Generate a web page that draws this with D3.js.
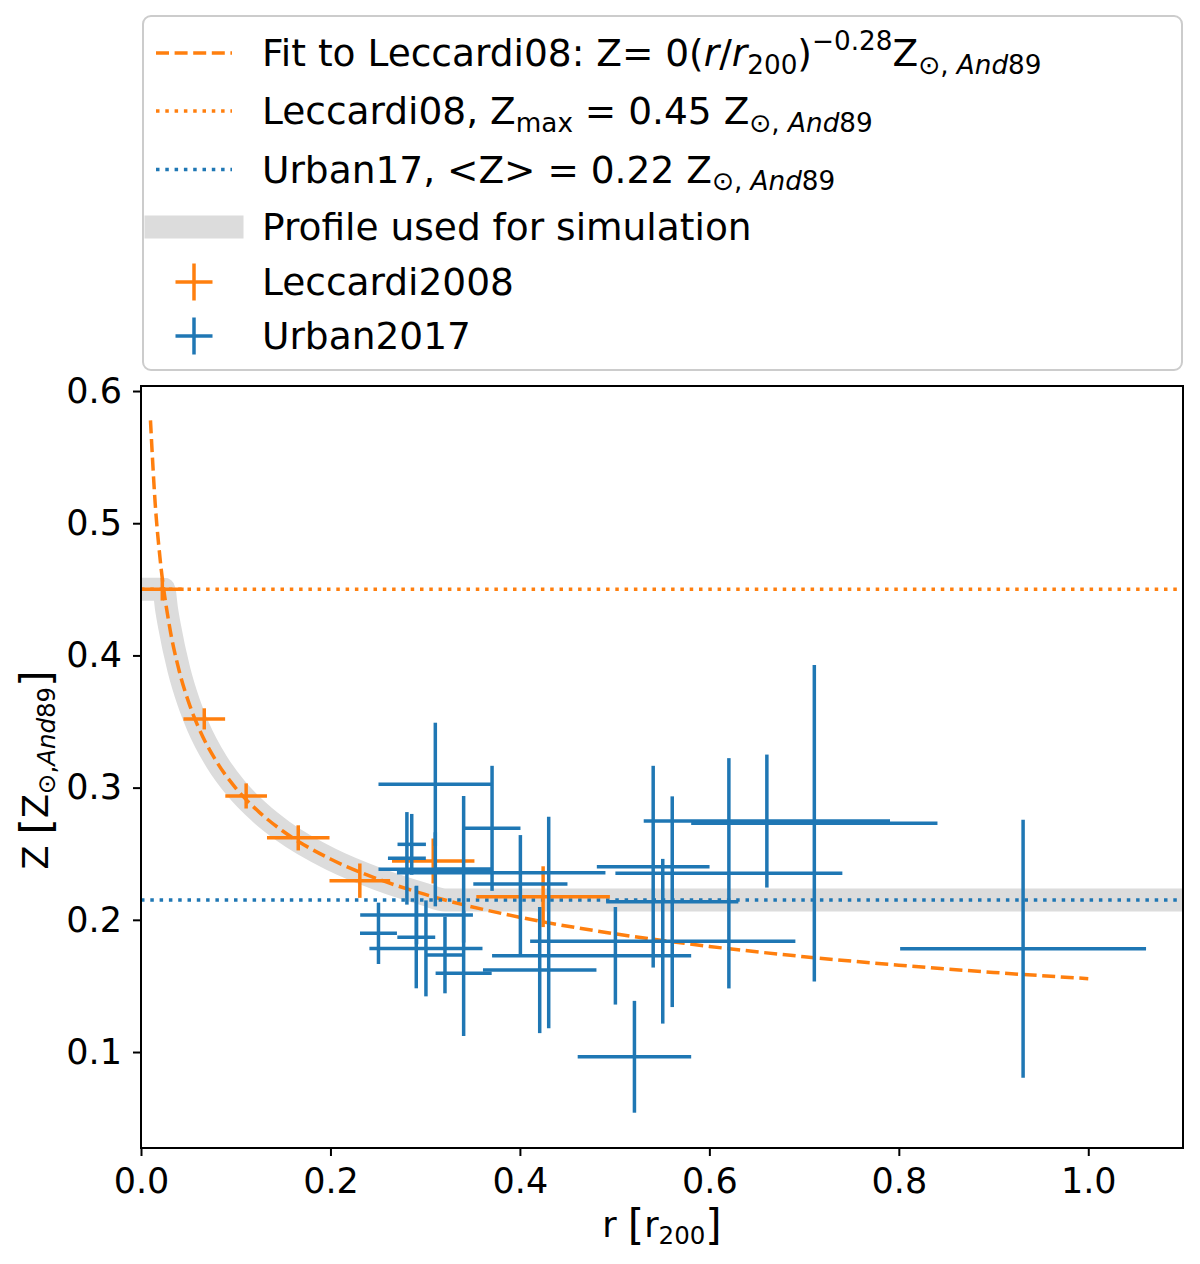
<!DOCTYPE html>
<html>
<head>
<meta charset="utf-8">
<script src="https://cdn.jsdelivr.net/npm/d3@7"></script>
<style>
  body { margin: 0; background: #fff; }
  text { font-family: "DejaVu Sans", sans-serif; white-space: pre; }
</style>
</head>
<body>
<div id="wrapper"></div>
<script>
// Leccardi 2008 profile (r in r200, Z in solar And89)
const leccR    = [0.0225, 0.0668, 0.111, 0.166, 0.231, 0.3085, 0.4245]
const leccRErr = [0.0225, 0.022, 0.022, 0.033, 0.032, 0.0435, 0.0705]
const leccZ    = [0.45, 0.352, 0.2937, 0.262, 0.2296, 0.2445, 0.2175]
const leccZErr = [0.0085, 0.008, 0.0095, 0.0095, 0.013, 0.017, 0.023]

// Urban 2017 points, errors given as (lower, upper)
const urbanR     = [0.3107, 0.3107, 0.3706, 0.2807, 0.2858, 0.2507, 0.2909, 0.2906, 0.3008, 0.3209, 0.3406, 0.3406,
                    0.4005, 0.4304, 0.4209, 0.5008, 0.5209, 0.5407, 0.5508, 0.5608, 0.6206, 0.6607, 0.7108, 0.9312]
const urbanRErrLo = [0.060, 0.060, 0.030, 0.020, 0.015, 0.0195, 0.0595, 0.020, 0.0597, 0.0203, 0.0296, 0.0296,
                    0.0497, 0.1602, 0.0599, 0.1302, 0.0599, 0.0595, 0.140, 0.0698, 0.1198, 0.130, 0.130, 0.1298]
const urbanRErrHi = [0.060, 0.060, 0.030, 0.020, 0.015, 0.0195, 0.0595, 0.020, 0.0597, 0.0203, 0.0296, 0.0296,
                    0.0497, 0.0599, 0.0599, 0.080, 0.0599, 0.0595, 0.140, 0.0698, 0.1198, 0.130, 0.130, 0.1298]
const urbanZ     = [0.3025, 0.2382, 0.2692, 0.2465, 0.2571, 0.1898, 0.2036, 0.1868, 0.1784, 0.1734, 0.1595, 0.2382,
                    0.2271, 0.2356, 0.162, 0.1728, 0.0964, 0.2402, 0.1838, 0.2137, 0.2352, 0.2747, 0.273, 0.1781]
const urbanZErrLo = [0.0466, 0.028, 0.0473, 0.035, 0.023, 0.0232, 0.0222, 0.0386, 0.0363, 0.029, 0.0474, 0.0554,
                    0.053, 0.1177, 0.0477, 0.0369, 0.0423, 0.0763, 0.0623, 0.0797, 0.0871, 0.0503, 0.1197, 0.0976]
const urbanZErrHi = [0.0466, 0.028, 0.0473, 0.035, 0.023, 0.0232, 0.0222, 0.0386, 0.0363, 0.029, 0.0474, 0.0554,
                    0.037, 0.0424, 0.0477, 0.0369, 0.0423, 0.0763, 0.0623, 0.0797, 0.0871, 0.0503, 0.1197, 0.0976]

// power-law fit
const fitR = [0.01, 0.015, 0.02, 0.03, 0.04, 0.05, 0.06, 0.08, 0.1, 0.125, 0.15, 0.2, 0.25, 0.3, 0.4, 0.5, 0.6, 0.7, 0.8, 0.9, 1.0]
const fitZ = [0.5778, 0.5147, 0.4742, 0.4224, 0.3892, 0.3652, 0.3467, 0.3194, 0.2997, 0.2813, 0.2670, 0.2460,
              0.2309, 0.2192, 0.2019, 0.1895, 0.1799, 0.1721, 0.1657, 0.1602, 0.1555]

// profile used for the simulation (fit clipped between the two levels)
const profileR = [0, 0.024, 0.027, 0.03, 0.04, 0.05, 0.06, 0.08, 0.1, 0.125, 0.15, 0.2, 0.25, 0.3, 0.321, 1.1]
const profileZ = [0.45, 0.45, 0.435, 0.4224, 0.3892, 0.3652, 0.3467, 0.3194, 0.2997, 0.2813, 0.2670, 0.2460,
                  0.2309, 0.2192, 0.215, 0.215]

const leccMax = 0.45
const urbanMean = 0.215

const xTicks = [0, 0.2, 0.4, 0.6, 0.8, 1.0]
const yTicks = [0.1, 0.2, 0.3, 0.4, 0.5, 0.6]

const orange = "#ff7f0e"
const blue = "#1f77b4"
const grey = "#dcdcdc"

const width = 1200, height = 1264
const plot = { left: 141, right: 1183, top: 386, bottom: 1148 }

const svg = d3.select("#wrapper").append("svg")
    .attr("width", width)
    .attr("height", height)

const x = d3.scaleLinear([0, 1.1], [plot.left, plot.right])
const y = d3.scaleLinear([0.0274, 0.6038], [plot.bottom, plot.top])

svg.append("clipPath").attr("id", "clip")
  .append("rect")
    .attr("x", plot.left).attr("y", plot.top)
    .attr("width", plot.right - plot.left).attr("height", plot.bottom - plot.top)

const bounds = svg.append("g").attr("clip-path", "url(#clip)")

// profile
const line = d3.line().x(d => x(d[0])).y(d => y(d[1])).curve(d3.curveMonotoneX)
bounds.append("path")
    .attr("d", line(d3.zip(profileR, profileZ)))
    .attr("fill", "none")
    .attr("stroke", grey)
    .attr("stroke-width", 23)
    .attr("stroke-linejoin", "round")
    .attr("stroke-linecap", "square")

// fit
bounds.append("path")
    .attr("d", line(d3.zip(fitR, fitZ)))
    .attr("fill", "none")
    .attr("stroke", orange)
    .attr("stroke-width", 3.5)
    .attr("stroke-dasharray", "13,5.6")

// horizontal levels
const hlines = [[leccMax, orange], [urbanMean, blue]]
bounds.selectAll(".hline")
  .data(hlines)
  .join("line")
    .attr("x1", plot.left).attr("x2", plot.right)
    .attr("y1", d => y(d[0])).attr("y2", d => y(d[0]))
    .attr("stroke", d => d[1])
    .attr("stroke-width", 3.5)
    .attr("stroke-dasharray", "3.5,5.8")

// error bars
function errorbars(rows, color) {
  const g = bounds.append("g").attr("stroke", color).attr("stroke-width", 3.5)
  g.selectAll(".v").data(rows).join("line")
      .attr("x1", d => x(d.r)).attr("x2", d => x(d.r))
      .attr("y1", d => y(d.z - d.zlo)).attr("y2", d => y(d.z + d.zhi))
  g.selectAll(".h").data(rows).join("line")
      .attr("x1", d => x(d.r - d.rlo)).attr("x2", d => x(d.r + d.rhi))
      .attr("y1", d => y(d.z)).attr("y2", d => y(d.z))
}

errorbars(leccR.map((r, i) => ({
  r, z: leccZ[i], rlo: leccRErr[i], rhi: leccRErr[i], zlo: leccZErr[i], zhi: leccZErr[i]
})), orange)

errorbars(urbanR.map((r, i) => ({
  r, z: urbanZ[i], rlo: urbanRErrLo[i], rhi: urbanRErrHi[i], zlo: urbanZErrLo[i], zhi: urbanZErrHi[i]
})), blue)

// axes
const xAxis = svg.append("g")
    .attr("transform", `translate(0,${plot.bottom})`)
    .call(d3.axisBottom(x).tickValues(xTicks).tickFormat(d3.format(".1f"))
      .tickSize(8).tickSizeOuter(0).tickPadding(12))
const yAxis = svg.append("g")
    .attr("transform", `translate(${plot.left},0)`)
    .call(d3.axisLeft(y).tickValues(yTicks).tickFormat(d3.format(".1f"))
      .tickSize(8).tickSizeOuter(0).tickPadding(11))

;[xAxis, yAxis].forEach(a => {
  a.select(".domain").remove()
  a.selectAll(".tick line").attr("stroke", "#000").attr("stroke-width", 2)
  a.selectAll(".tick text")
      .attr("font-family", "DejaVu Sans")
      .attr("font-size", 35)
      .attr("fill", "#000")
})

svg.append("rect")
    .attr("x", plot.left).attr("y", plot.top)
    .attr("width", plot.right - plot.left).attr("height", plot.bottom - plot.top)
    .attr("fill", "none")
    .attr("stroke", "#000")
    .attr("stroke-width", 2)

// rich text with sub/superscripts
function rich(sel, parts) {
  const base = +sel.attr("font-size")
  let shift = 0
  parts.forEach(([str, kind = ""]) => {
    const sub = kind.startsWith("sub"), sup = kind.startsWith("sup"), big = kind === "big"
    const target = sub ? 0.2 : sup ? -0.42 : big ? 0.08 : 0
    const ts = sel.append("tspan").text(str)
      .attr("dy", (target - shift) * base)
    shift = target
    if (sub || sup) ts.attr("font-size", base * 0.7)
    if (big) ts.attr("font-size", base * 1.2)
    if (kind.endsWith("i")) ts.attr("font-style", "italic")
  })
}

// axis labels
rich(svg.append("text")
    .attr("x", 662).attr("y", 1237)
    .attr("text-anchor", "middle")
    .attr("font-size", 35),
  [["r "], ["[", "big"], ["r"], ["200", "sub"], ["]", "big"]])

rich(svg.append("text")
    .attr("transform", "translate(48,770) rotate(-90)")
    .attr("text-anchor", "middle")
    .attr("font-size", 35),
  [["Z "], ["[", "big"], ["Z"], ["⊙,", "sub"], ["And", "subi"], ["89", "sub"], ["]", "big"]])

// legend
const legend = svg.append("g")
legend.append("rect")
    .attr("x", 143).attr("y", 16)
    .attr("width", 1039).attr("height", 354)
    .attr("rx", 8)
    .attr("fill", "#fff").attr("fill-opacity", 0.8)
    .attr("stroke", "#cccccc").attr("stroke-width", 2)

const legendRows = [
  [["Fit to Leccardi08: Z= 0("], ["r", "i"], ["/"], ["r", "i"], ["200", "sub"], [")"], ["−0.28", "sup"],
   ["Z"], ["⊙, ", "sub"], ["And", "subi"], ["89", "sub"]],
  [["Leccardi08, Z"], ["max", "sub"], [" = 0.45 "], ["Z"], ["⊙, ", "sub"], ["And", "subi"], ["89", "sub"]],
  [["Urban17, <Z> = 0.22 "], ["Z"], ["⊙, ", "sub"], ["And", "subi"], ["89", "sub"]],
  [["Profile used for simulation"]],
  [["Leccardi2008"]],
  [["Urban2017"]],
]
const rowY = [53, 111, 169.5, 227, 282, 336]

legendRows.forEach((parts, i) => {
  rich(legend.append("text")
      .attr("x", 262).attr("y", rowY[i] + 13)
      .attr("font-size", 37.5), parts)
})

const hx1 = 156, hx2 = 232, hxc = (hx1 + hx2) / 2
legend.append("line").attr("x1", hx1).attr("x2", hx2).attr("y1", rowY[0]).attr("y2", rowY[0])
    .attr("stroke", orange).attr("stroke-width", 3.5).attr("stroke-dasharray", "13,5.6")
legend.append("line").attr("x1", hx1).attr("x2", hx2).attr("y1", rowY[1]).attr("y2", rowY[1])
    .attr("stroke", orange).attr("stroke-width", 3.5).attr("stroke-dasharray", "3.5,5.8")
legend.append("line").attr("x1", hx1).attr("x2", hx2).attr("y1", rowY[2]).attr("y2", rowY[2])
    .attr("stroke", blue).attr("stroke-width", 3.5).attr("stroke-dasharray", "3.5,5.8")
legend.append("line").attr("x1", hx1).attr("x2", hx2).attr("y1", rowY[3]).attr("y2", rowY[3])
    .attr("stroke", grey).attr("stroke-width", 23).attr("stroke-linecap", "square")
;[[rowY[4], orange], [rowY[5], blue]].forEach(([cy, c]) => {
  legend.append("line").attr("x1", hxc - 18.5).attr("x2", hxc + 18.5).attr("y1", cy).attr("y2", cy)
      .attr("stroke", c).attr("stroke-width", 3.5)
  legend.append("line").attr("x1", hxc).attr("x2", hxc).attr("y1", cy - 18.5).attr("y2", cy + 18.5)
      .attr("stroke", c).attr("stroke-width", 3.5)
})
</script>
</body>
</html>
